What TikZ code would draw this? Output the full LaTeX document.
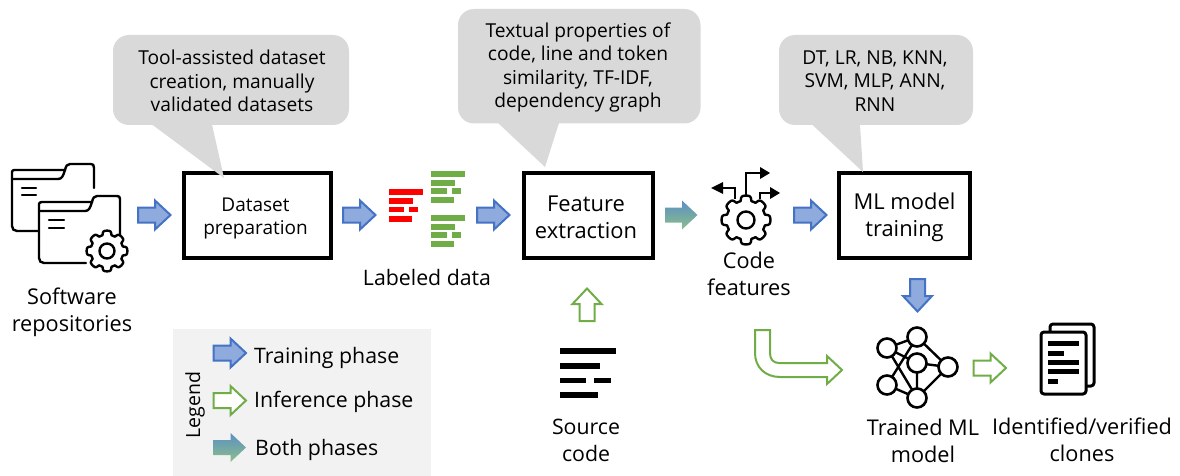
\documentclass[tikz,border=0pt]{standalone}
\usepackage{fontspec}
\setmainfont{Open Sans}
\usetikzlibrary{calc}
\definecolor{tblue}{HTML}{4472C4}
\definecolor{tfill}{HTML}{8FAADC}
\definecolor{igreen}{HTML}{70AD47}
\definecolor{callgray}{HTML}{D9D9D9}
\definecolor{leggray}{HTML}{F2F2F2}
\definecolor{bothtop}{HTML}{5B8FC4}
\definecolor{bothbot}{HTML}{8CBF8A}
\tikzset{
  x=1pt,y=-1pt,
  trainarrow/.style={draw=tblue,line width=2pt,fill=tfill,line join=miter},
  inferarrow/.style={draw=igreen,line width=2pt,fill=white,line join=miter},
  botharrow/.style={top color=bothtop,bottom color=bothbot,draw=none},
  stepbox/.style={draw=black,line width=3.6pt,fill=white,minimum width=147.5pt,minimum height=85.4pt,align=center,inner sep=0pt},
  callout/.style={fill=callgray,rounded corners=16pt},
  calltext/.style={align=center,font=\fontsize{19.2}{23.6}\selectfont,inner sep=0pt},
  lab/.style={align=center,font=\fontsize{21.7}{27}\selectfont,inner sep=0pt},
  leglab/.style={align=center,font=\fontsize{21.3}{27}\selectfont,inner sep=0pt},
  icon/.style={draw=black,line width=2.4pt,line cap=round,line join=round},
}
\newcommand{\blockarrow}[4]{% style, x, y, rotation
  \path[#1,shift={(#2,#3)},rotate=#4]
    (-16,-7.5) -- (1,-7.5) -- (1,-14.5) -- (16.5,0) -- (1,14.5) -- (1,7.5) -- (-16,7.5) -- cycle;}
\newcommand{\gearpath}[4]{% x,y,outer,style
  \path[#4] \foreach \k in {0,...,7} {
    \ifnum\k=0 ($(#1,#2)+(\k*45-16:#3*0.82)$) \else -- ($(#1,#2)+(\k*45-16:#3*0.82)$) \fi
    .. controls ($(#1,#2)+(\k*45-11:#3*1.02)$) and ($(#1,#2)+(\k*45-11:#3*1.02)$) .. ($(#1,#2)+(\k*45:#3*1.02)$)
    .. controls ($(#1,#2)+(\k*45+11:#3*1.02)$) and ($(#1,#2)+(\k*45+11:#3*1.02)$) .. ($(#1,#2)+(\k*45+16:#3*0.82)$)
    } -- cycle;}
\begin{document}
\begin{tikzpicture}
\useasboundingbox (0,0) rectangle (1180,476);
% legend
\fill[leggray] (173,329) rectangle (431,476);
% boxes
\node[stepbox,font=\fontsize{19}{23}\selectfont] (dp) at (257.5,215.5) {\rule{0pt}{20pt}Dataset\hspace*{4pt}\\preparation\hspace*{4pt}};
\node[stepbox,minimum width=129.4pt,font=\fontsize{21.9}{27}\selectfont] (fe) at (588.5,215.5) {\rule{0pt}{20pt}Feature\hspace*{5pt}\\extraction\hspace*{5pt}};
\node[stepbox,minimum width=131.4pt,font=\fontsize{21.9}{27}\selectfont] (ml) at (904.5,215.5) {\rule{0pt}{20pt}ML model\\training};
% callouts
\fill[callout] (113,35) rectangle (349,125);
\fill[callgray] (152,124.5) -- (224,178) -- (212,124.5) -- cycle;
\fill[callout] (458,9) rectangle (700.5,123.5);
\fill[callgray] (498,123) -- (545,167) -- (559,123) -- cycle;
\fill[callout] (779,35) rectangle (973,125);
\fill[callgray] (812,124.5) -- (863,172) -- (860,124.5) -- cycle;
\node[calltext] (c1) at (232,81) {Tool-assisted dataset\\creation, manually\\validated datasets};
\node[calltext] (c2) at (578,67.5) {Textual properties of\\code, line and token\\similarity, TF-IDF,\\dependency graph};
\node[calltext] (c3) at (875,81) {DT, LR, NB, KNN,\\SVM, MLP, ANN,\\RNN};
% arrows
\blockarrow{trainarrow}{154}{215}{0}
\blockarrow{trainarrow}{359}{215}{0}
\blockarrow{trainarrow}{493}{215}{0}
\blockarrow{botharrow}{681}{215}{0}
\blockarrow{trainarrow}{810}{215}{0}
\blockarrow{trainarrow}{917.5}{295}{-90}
\blockarrow{inferarrow}{587}{305}{90}
\blockarrow{inferarrow}{989.5}{368}{0}
\path[inferarrow] (755,330) -- (770,330) -- (770,353) .. controls (770,359) and (773,363) .. (779,363) -- (827,363) -- (827,356) -- (842,370) -- (827,384) -- (827,377) -- (780,377) .. controls (765,377) and (755,367) .. (755,353) -- cycle;
% legend content
\blockarrow{trainarrow}{229.5}{353}{0}
\blockarrow{inferarrow}{229.5}{400.5}{0}
\blockarrow{botharrow}{229.5}{447.5}{0}
\node[leglab,anchor=west] (lt) at (254,358) {Training phase};
\node[leglab,anchor=west] (li) at (254,402) {Inference phase};
\node[leglab,anchor=west] (lb) at (255,450) {Both phases};
\node[leglab,rotate=90,font=\fontsize{19.5}{20}\selectfont] (lg) at (195,405) {Legend};
% folders
\draw[icon] (94,188) -- (94,168) .. controls (94,165) and (93,164) .. (91,164) -- (70,164) .. controls (67,164) and (66,166) .. (65,170) -- (14,170) .. controls (13,170) and (12,171) .. (12,172) -- (12,226) .. controls (12,229) and (14,231) .. (17,231) -- (38,231);
\draw[icon] (12,179) -- (58,179) .. controls (62,179) and (63,176) .. (65,170);
\draw[icon] (22,188) -- (36,188) (22,195) -- (36,195);
\draw[icon] (120,237) -- (120,199) .. controls (120,197) and (119,196) .. (117,196) -- (97,196) .. controls (94,196) and (93,198) .. (92,202) -- (42,202) .. controls (40,202) and (39,203) .. (39,204) -- (39,258) .. controls (39,261) and (41,263) .. (44,263) -- (86,263);
\draw[icon] (39,211) -- (85,211) .. controls (89,211) and (90,208) .. (92,202);
\draw[icon] (49,220) -- (64,220) (49,228) -- (64,228);
\gearpath{107}{251}{20}{icon,fill=white}
\node[circle,draw=black,line width=2.4pt,minimum size=15pt,inner sep=0pt] (g1) at (107,251) {};
\node[lab] (sw) at (72,312) {Software\\repositories};
% labeled data
\foreach \a/\b/\c/\d in {389/423/189/195,389/413/198/204,389/404/207/212,409/418/207/212,389/412/216/222}
  \fill[red] (\a,\c) rectangle (\b,\d);
\foreach \o in {0,44}{
\foreach \a/\b/\c/\d in {431/465/171/177,431/455/180/186,431/446.5/188/194,452/461/188/194,431/454/197/203}
  \fill[igreen] (\a,\c+\o) rectangle (\b,\d+\o);}
\node[leglab] (ld) at (427,278) {Labeled data};
% source code
\foreach \a/\b/\c/\d in {560/616/348/354,560/600/363/369,560/586/378/383,594/611/378/383,560/598/392/398}
  \fill[black] (\a,\c) rectangle (\b,\d);
\node[leglab] (sc) at (586,440) {Source\\code};
% code features
\gearpath{746}{220}{24}{icon,fill=white}
\node[circle,draw=black,line width=2.4pt,minimum size=17pt,inner sep=0pt] (g2) at (746,220) {};
\coordinate (o1a) at (746,196); \coordinate (o1b) at (746,173); \coordinate (o1c) at (760,173);
\coordinate (o2a) at (735,199); \coordinate (o2b) at (735,188); \coordinate (o2c) at (723,188);
\coordinate (o3a) at (760,199); \coordinate (o3b) at (760,193); \coordinate (o3c) at (770,193);
\draw[line width=2.2pt] (o1a) -- (o1b) -- (o1c);
\draw[line width=2.2pt] (o2a) -- (o2b) -- (o2c);
\draw[line width=2.2pt] (o3a) -- (o3b) -- (o3c);
\fill (760,167) -- (770,173) -- (760,179) -- cycle;
\fill (723,182) -- (711,188) -- (723,194) -- cycle;
\fill (770,187) -- (780,193) -- (770,199) -- cycle;
\node[lab] (cf) at (749,274) {Code\\features};
% neural net
\tikzset{nn/.style={circle,draw=black,line width=2.6pt,fill=white,minimum size=19pt,inner sep=0pt}}
\coordinate (A) at (887,348); \coordinate (B) at (917,337); \coordinate (C) at (917,363);
\coordinate (D) at (948,367); \coordinate (E) at (887,385); \coordinate (F) at (917,398);
\draw[line width=2.4pt] (A)--(B) (A)--(C) (A)--(F) (B)--(D) (B)--(E) (C)--(D) (C)--(F) (D)--(F) (E)--(F);
\foreach \n in {A,B,C,D,E,F} \node[nn] (n\n) at (\n) {};
\node[lab] (tm) at (923,441) {Trained ML\\model};
% doc icon
\draw[icon,line width=3pt,rounded corners=3pt] (1050,332) -- (1050,324) -- (1094,324) -- (1094,386) -- (1086,386);
\draw[icon,line width=3pt,fill=white,rounded corners=3pt] (1041,332) rectangle (1086,394);
\foreach \a/\b/\c in {1048/1079/343.5,1048/1064/353,1048/1079/362.5,1048/1079/371.5,1048/1058/381.5}
  \fill (\a,\c-2.5) rectangle (\b,\c+2.5);
\node[lab] (iv) at (1082,440) {Identified/verified\\clones};
\end{tikzpicture}
\end{document}
